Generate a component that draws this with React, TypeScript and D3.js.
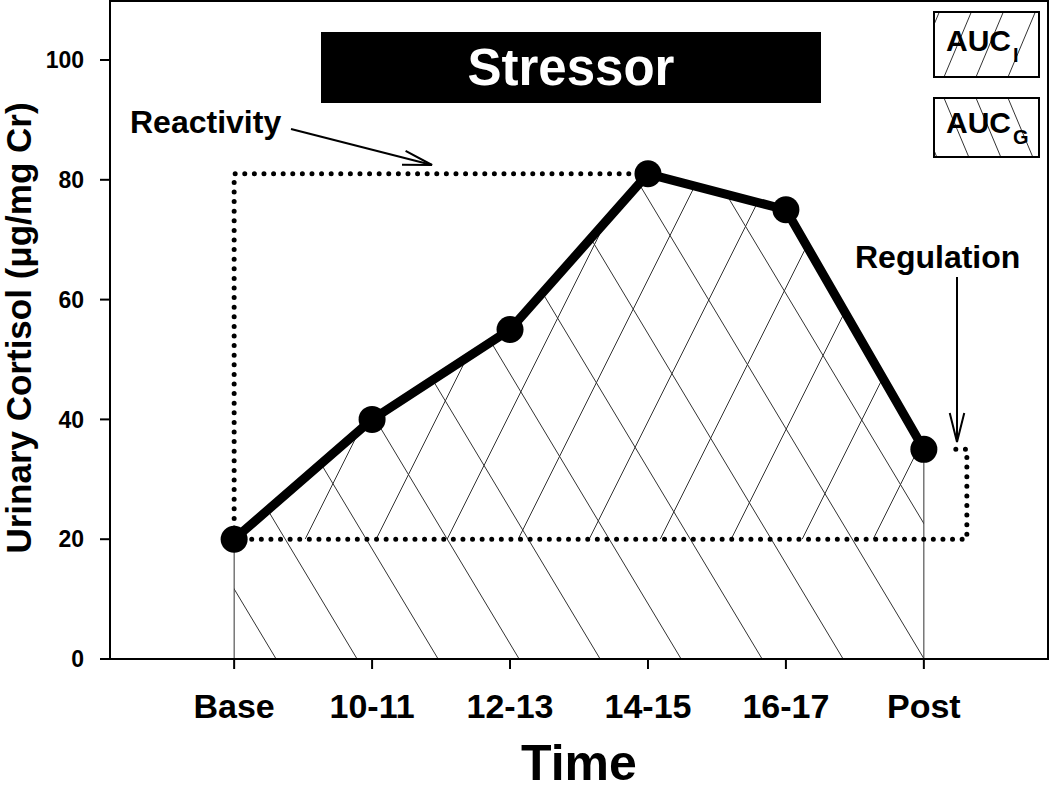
import React from 'react';
import * as d3 from 'd3';

const categories: string[] = ['Base', '10-11', '12-13', '14-15', '16-17', 'Post'];
const cortisol: number[] = [20, 40, 55, 81, 75, 35];
const yTicks: number[] = [0, 20, 40, 60, 80, 100];
const baselineValue = 20;
const xTitle = 'Time';
const yTitle = 'Urinary Cortisol (\u03bcg/mg Cr)';
const bannerText = 'Stressor';
const reactivityLabel = 'Reactivity';
const regulationLabel = 'Regulation';
const legendItems = [
  { main: 'AUC', sub: 'I', hatch: 'fwd' },
  { main: 'AUC', sub: 'G', hatch: 'back' },
];

const W = 1050;
const H = 790;
const LEFT = 110;
const RIGHT = 1048;
const TOP = 1;
const BOTTOM = 659;
const FONT = "'Liberation Sans', Arial, Helvetica, sans-serif";

function arrowHead(tx: number, ty: number, fx: number, fy: number, len = 30, ang = 14) {
  const a = Math.atan2(ty - fy, tx - fx);
  const r = (ang * Math.PI) / 180;
  const p1 = [tx - len * Math.cos(a - r), ty - len * Math.sin(a - r)];
  const p2 = [tx - len * Math.cos(a + r), ty - len * Math.sin(a + r)];
  return `M${p1[0]},${p1[1]}L${tx},${ty}L${p2[0]},${p2[1]}`;
}

export default function App() {
  const x = d3.scalePoint<string>().domain(categories).range([LEFT, RIGHT]).padding(0.9);
  const y = d3.scaleLinear().domain([0, 100]).range([BOTTOM, 60]);

  const pts: [number, number][] = categories.map((c, i) => [x(c) as number, y(cortisol[i])]);
  const lineGen = d3.line();
  const curvePath = lineGen(pts) as string;

  const x0 = pts[0][0];
  const xN = pts[pts.length - 1][0];
  const yZero = y(0);
  const yBase = y(baselineValue);

  const polyG: [number, number][] = [[x0, yZero], ...pts, [xN, yZero]];
  const polyI: [number, number][] = [[x0, yBase], ...pts, [xN, yBase]];
  const polyGPath = lineGen(polyG) + 'Z';
  const polyIPath = lineGen(polyI) + 'Z';

  // hatching: "\" lines for ground AUC, "/" lines for increase AUC
  const backLines = d3.range(-12, 14).map((k) => {
    const xb = x0 + 42 + k * 81;
    return `M${xb},${yZero}L${xb - 0.6 * 700},${yZero - 700}`;
  });
  const fwdLines = d3.range(-12, 14).map((k) => {
    const xs = x0 + 71 + k * 71;
    return `M${xs},${yBase}L${xs + 0.5 * 500},${yBase - 500}`;
  });

  const peakIdx = d3.maxIndex(cortisol);
  const xPeak = pts[peakIdx][0];
  const yPeak = pts[peakIdx][1];
  const yPost = pts[pts.length - 1][1];
  const xBracket = xN + 43;
  const dottedPath = `M${xPeak},${yPeak}L${x0},${yPeak}L${x0},${yBase}L${xBracket},${yBase}L${xBracket},${yPost}L${xN + 23},${yPost}`;

  const legX = 934;
  const legW = 105;
  const legBoxes = [
    { y: 12, h: 65 },
    { y: 98, h: 59 },
  ];

  const rA = { x1: 291, y1: 129, x2: 432, y2: 165 };
  const rgA = { x: 957, y1: 277, y2: 442 };

  return (
    <svg
      width={W}
      height={H}
      style={{ position: 'absolute', left: 0, top: 0, background: '#fff' }}
      fontFamily={FONT}
    >
      <defs>
        <clipPath id="clipG">
          <path d={polyGPath} />
        </clipPath>
        <clipPath id="clipI">
          <path d={polyIPath} />
        </clipPath>
        {legBoxes.map((b, i) => (
          <clipPath id={`clipLeg${i}`} key={i}>
            <rect x={legX} y={b.y} width={legW} height={b.h} />
          </clipPath>
        ))}
      </defs>
      <rect x={0} y={0} width={W} height={H} fill="#fff" />

      <g clipPath="url(#clipG)" stroke="#333" strokeWidth={1} fill="none">
        {backLines.map((d, i) => (
          <path key={i} d={d} />
        ))}
      </g>
      <g clipPath="url(#clipI)" stroke="#333" strokeWidth={1} fill="none">
        {fwdLines.map((d, i) => (
          <path key={i} d={d} />
        ))}
      </g>

      <line x1={x0} x2={x0} y1={yZero} y2={pts[0][1]} stroke="#333" strokeWidth={1} />
      <line x1={xN} x2={xN} y1={yZero} y2={yPost} stroke="#333" strokeWidth={1} />

      <path
        d={dottedPath}
        fill="none"
        stroke="#000"
        strokeWidth={5}
        strokeLinecap="round"
        strokeLinejoin="round"
        strokeDasharray="0 9.6"
      />

      <rect x={LEFT} y={TOP} width={RIGHT - LEFT} height={BOTTOM - TOP} fill="none" stroke="#000" strokeWidth={2} />

      {yTicks.map((t) => (
        <g key={t}>
          <line x1={LEFT - 10} x2={LEFT} y1={y(t)} y2={y(t)} stroke="#000" strokeWidth={2} />
          <text x={84} y={y(t)} dy="0.36em" textAnchor="end" fontSize={23} fontWeight="bold" fill="#000">
            {t}
          </text>
        </g>
      ))}

      {categories.map((c) => (
        <g key={c}>
          <line x1={x(c)} x2={x(c)} y1={BOTTOM} y2={BOTTOM + 10} stroke="#000" strokeWidth={2} />
          <text x={x(c)} y={718} textAnchor="middle" fontSize={34} fontWeight="bold" fill="#000">
            {c}
          </text>
        </g>
      ))}

      <text x={(LEFT + RIGHT) / 2} y={780} textAnchor="middle" fontSize={50} fontWeight="bold" fill="#000">
        {xTitle}
      </text>
      <text
        transform={`translate(31,${328}) rotate(-90)`}
        textAnchor="middle"
        fontSize={35}
        fontWeight="bold"
        fill="#000"
      >
        {yTitle}
      </text>

      <path d={curvePath} fill="none" stroke="#000" strokeWidth={9} strokeLinejoin="round" />
      {pts.map((p, i) => (
        <circle key={i} cx={p[0]} cy={p[1]} r={13.5} fill="#000" />
      ))}

      <rect x={321} y={32} width={500} height={71} fill="#000" />
      <text x={571} y={85} textAnchor="middle" fontSize={51} fontWeight="bold" fill="#fff">
        {bannerText}
      </text>

      <text x={130} y={133} fontSize={32} fontWeight="bold" fill="#000">
        {reactivityLabel}
      </text>
      <line x1={rA.x1} y1={rA.y1} x2={rA.x2} y2={rA.y2} stroke="#000" strokeWidth={2} />
      <path d={arrowHead(rA.x2, rA.y2, rA.x1, rA.y1)} fill="none" stroke="#000" strokeWidth={2} />

      <text x={855} y={268} fontSize={32} fontWeight="bold" fill="#000">
        {regulationLabel}
      </text>
      <line x1={rgA.x} y1={rgA.y1} x2={rgA.x} y2={rgA.y2} stroke="#000" strokeWidth={2} />
      <path d={arrowHead(rgA.x, rgA.y2, rgA.x, rgA.y1)} fill="none" stroke="#000" strokeWidth={2} />

      {legendItems.map((item, i) => {
        const b = legBoxes[i];
        const lines = d3.range(-4, 6).map((k) => {
          const xs = legX + 10 + k * 32;
          if (item.hatch === 'fwd') {
            return `M${xs},${b.y + b.h}L${xs + 0.42 * 200},${b.y + b.h - 200}`;
          }
          return `M${xs},${b.y}L${xs + 0.42 * 200},${b.y + 200}`;
        });
        const base = i === 0 ? 51 : 133;
        const subBase = i === 0 ? 62 : 144;
        return (
          <g key={i}>
            <rect x={legX} y={b.y} width={legW} height={b.h} fill="#fff" />
            <g clipPath={`url(#clipLeg${i})`} stroke="#333" strokeWidth={1}>
              {lines.map((d, j) => (
                <path key={j} d={d} />
              ))}
            </g>
            <rect x={legX} y={b.y} width={legW} height={b.h} fill="none" stroke="#000" strokeWidth={2} />
            <text x={946} y={base} fontSize={30} fontWeight="bold" fill="#000">
              {item.main}
            </text>
            <text x={1013} y={subBase} fontSize={20} fontWeight="bold" fill="#000">
              {item.sub}
            </text>
          </g>
        );
      })}
    </svg>
  );
}
